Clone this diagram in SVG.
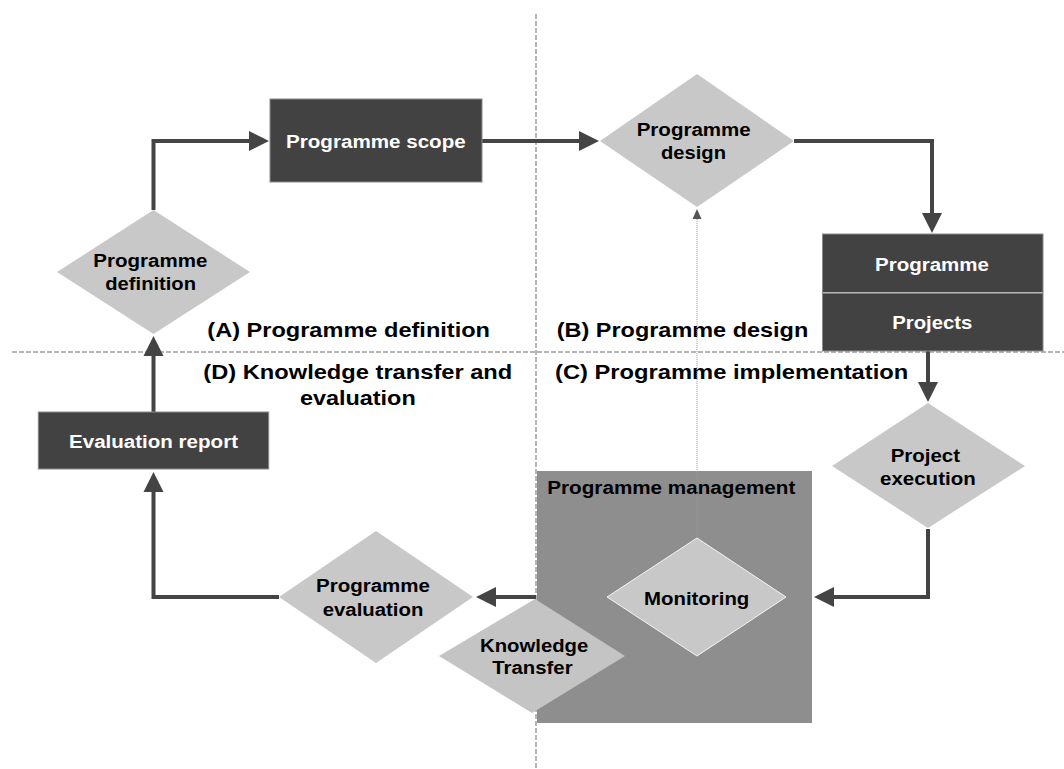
<svg xmlns="http://www.w3.org/2000/svg" width="1064" height="769" viewBox="0 0 1064 769">
<style>
text { font-family: "Liberation Sans", Arial, sans-serif; font-weight: bold; }
.n { font-size: 18px; fill: #000; }
.w { font-size: 18px; fill: #fff; }
.lbl { font-size: 20.5px; fill: #000; }
.dark { fill: #424242; stroke: #8a8a8a; stroke-width: 1; }
.dia { fill: #c8c8c8; }
.guide { stroke: #6e6e6e; stroke-width: 1; stroke-dasharray: 5 2; fill: none; }
.arrow { stroke: #444; stroke-width: 4; fill: none; marker-end: url(#ah); }
</style>
<defs>
<marker id="ah" markerUnits="userSpaceOnUse" markerWidth="22" markerHeight="22" viewBox="0 -11 22 22" refX="1" refY="0" orient="auto">
<path d="M0,-10 L20,0 L0,10 z" fill="#444"/>
</marker>
<marker id="ahs" markerUnits="userSpaceOnUse" markerWidth="12" markerHeight="12" viewBox="0 -6 12 12" refX="0" refY="0" orient="auto">
<path d="M0,-4.5 L10,0 L0,4.5 z" fill="#555"/>
</marker>
</defs>
<rect width="1064" height="769" fill="#fff"/>
<g id="guides">
<line class="guide" x1="536" y1="14" x2="536" y2="769"/>
<line class="guide" x1="12" y1="352" x2="1064" y2="352"/>
</g>
<g id="labels">
<text class="lbl" x="207.3" y="336.5" textLength="282.7" lengthAdjust="spacingAndGlyphs">(A) Programme definition</text>
<text class="lbl" x="556.7" y="336.5" textLength="251.6" lengthAdjust="spacingAndGlyphs">(B) Programme design</text>
<text class="lbl" x="555" y="379.3" textLength="353.3" lengthAdjust="spacingAndGlyphs">(C) Programme implementation</text>
<text class="lbl" x="203.3" y="379.3" textLength="309" lengthAdjust="spacingAndGlyphs">(D) Knowledge transfer and</text>
<text class="lbl" x="300" y="405" textLength="115.7" lengthAdjust="spacingAndGlyphs">evaluation</text>
</g>
<g id="programme-management">
<rect x="537" y="471" width="275" height="252" fill="#8e8e8e"/>
<text class="n" x="547.3" y="494" textLength="248" lengthAdjust="spacingAndGlyphs">Programme management</text>
</g>
<g id="connectors">
<path class="arrow" d="M153.5,210 V141 H250"/>
<path class="arrow" d="M482,141 H580"/>
<path class="arrow" d="M794,141 H932 V214"/>
<path class="arrow" d="M928,351 V383"/>
<path class="arrow" d="M928,529 V597 H833"/>
<path class="arrow" d="M536,597 H495"/>
<path class="arrow" d="M279,597 H153.5 V491"/>
<path class="arrow" d="M153.5,412 V355"/>
<path d="M697,538 V219" stroke="#9a9a9a" stroke-width="1" stroke-dasharray="1 1" fill="none" marker-end="url(#ahs)"/>
</g>
<g id="programme-definition">
<polygon class="dia" points="57,272 153.5,210 250,272 153.5,334"/>
<text class="n" x="93.3" y="267.3" textLength="114" lengthAdjust="spacingAndGlyphs">Programme</text>
<text class="n" x="105.3" y="290" textLength="90.7" lengthAdjust="spacingAndGlyphs">definition</text>
</g>
<g id="programme-scope">
<rect class="dark" x="270" y="99" width="212" height="83"/>
<text class="w" x="286" y="148" textLength="179.7" lengthAdjust="spacingAndGlyphs">Programme scope</text>
</g>
<g id="programme-design">
<polygon class="dia" points="600,141 697,74 794,141 697,207"/>
<text class="n" x="636.7" y="136" textLength="114" lengthAdjust="spacingAndGlyphs">Programme</text>
<text class="n" x="661" y="159.3" textLength="65" lengthAdjust="spacingAndGlyphs">design</text>
</g>
<g id="programme-projects">
<rect class="dark" x="822.5" y="234" width="220.5" height="117"/>
<line x1="823" y1="292.7" x2="1042.5" y2="292.7" stroke="#b8b8b8" stroke-width="1.5"/>
<text class="w" x="875" y="270.7" textLength="114" lengthAdjust="spacingAndGlyphs">Programme</text>
<text class="w" x="892.3" y="329.3" textLength="80" lengthAdjust="spacingAndGlyphs">Projects</text>
</g>
<g id="project-execution">
<polygon class="dia" points="832,466 928,403 1025,466 928,528"/>
<text class="n" x="890.7" y="461.7" textLength="69.3" lengthAdjust="spacingAndGlyphs">Project</text>
<text class="n" x="880" y="485" textLength="95.7" lengthAdjust="spacingAndGlyphs">execution</text>
</g>
<g id="monitoring">
<polygon class="dia" points="607,597 697,538 786,597 697,656" stroke="#f4f4f4" stroke-width="1"/>
<text class="n" x="644" y="605" textLength="105.3" lengthAdjust="spacingAndGlyphs">Monitoring</text>
</g>
<g id="knowledge-transfer">
<polygon points="439,656 535,599 625,656 532,713" fill="#c4c4c4"/>
<text class="n" x="480" y="651.7" textLength="108.3" lengthAdjust="spacingAndGlyphs">Knowledge</text>
<text class="n" x="492.3" y="674.3" textLength="80.3" lengthAdjust="spacingAndGlyphs">Transfer</text>
</g>
<g id="programme-evaluation">
<polygon class="dia" points="279,597 376,531 473,597 376,663"/>
<text class="n" x="316" y="592.3" textLength="114" lengthAdjust="spacingAndGlyphs">Programme</text>
<text class="n" x="322.7" y="615.7" textLength="100.7" lengthAdjust="spacingAndGlyphs">evaluation</text>
</g>
<g id="evaluation-report">
<rect class="dark" x="38.3" y="412" width="230.4" height="57"/>
<text class="w" x="69" y="447.7" textLength="169" lengthAdjust="spacingAndGlyphs">Evaluation report</text>
</g>
</svg>
